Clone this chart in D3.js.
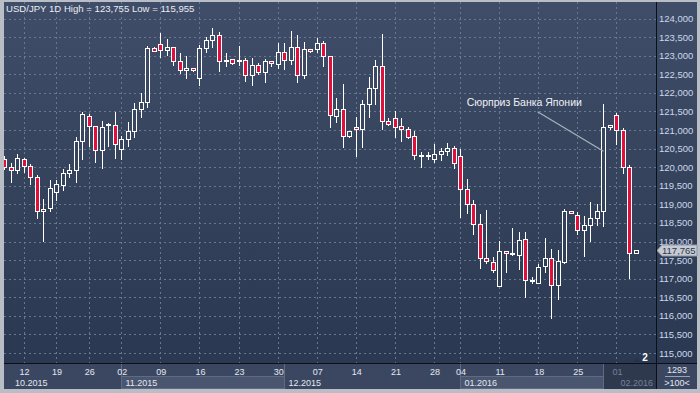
<!DOCTYPE html>
<html>
<head>
<meta charset="utf-8">
<script src="https://cdn.jsdelivr.net/npm/d3@7"></script>
<style>
  body { margin:0; background:#b9bec6; }
  svg { display:block; font-family:"Liberation Sans", Arial, sans-serif; }
</style>
</head>
<body>
<div id="canvas"></div>
<script>
// daily candles USD/JPY, oct 2015 - feb 2016
var opens = [120.21,120.00,119.92,120.21,120.03,119.73,118.82,118.90,119.34,119.51,
  119.83,119.92,120.70,121.38,121.10,120.45,121.13,121.13,120.48,120.75,
  120.97,121.56,121.75,123.20,123.31,123.15,123.23,122.86,122.61,122.67,
  122.40,123.20,123.42,123.55,122.87,122.91,122.88,122.88,122.48,122.75,
  122.56,122.85,122.77,123.10,122.88,123.23,122.48,123.18,123.19,123.34,
  122.99,121.39,121.56,120.85,121.07,121.02,121.69,122.12,122.72,121.23,
  121.31,121.10,121.03,120.83,120.34,120.33,120.21,120.35,120.43,120.51,
  120.29,119.40,119.01,118.46,117.55,117.46,116.79,117.74,117.66,117.65,
  118.06,116.95,116.89,117.34,117.55,116.82,117.46,118.81,118.70,118.31,
  118.44,118.63,118.81,121.09,121.40,120.99,120.00,117.70];
var highs = [120.30,120.11,120.35,120.26,120.08,119.79,119.15,119.66,119.66,119.95,
  120.08,120.80,121.48,121.43,121.12,121.25,121.18,121.48,120.83,121.21,
  121.72,121.99,123.27,123.22,123.62,123.45,123.24,123.07,123.00,122.68,
  123.29,123.51,123.755,123.63,123.07,122.92,123.27,122.95,122.95,122.80,
  122.91,122.86,123.34,123.34,123.67,123.56,123.37,123.19,123.47,123.40,
  123.00,121.85,122.24,120.97,121.34,121.81,122.43,122.88,123.58,121.31,
  121.51,121.31,121.09,120.96,120.42,120.41,120.62,120.52,120.64,120.56,
  120.48,119.68,119.13,118.74,118.85,117.57,118.01,117.75,118.36,118.25,
  118.25,117.05,117.39,118.09,117.79,117.77,118.88,118.82,118.79,118.69,
  119.06,119.01,121.69,121.14,121.47,121.06,120.06,117.77];
var lows = [119.95,119.61,119.83,119.88,119.54,118.63,118.02,118.81,119.12,119.39,
  119.74,119.60,120.21,120.58,120.13,119.99,120.56,120.26,120.22,120.58,
  120.80,121.36,121.61,123.12,122.96,123.01,122.74,122.54,122.41,122.58,
  122.22,123.10,123.22,122.59,122.71,122.77,122.75,122.31,122.22,122.50,
  122.29,122.71,122.68,122.64,122.77,122.29,122.41,123.10,123.10,122.71,
  121.07,121.22,120.55,120.80,120.31,120.55,121.36,121.69,121.04,121.13,
  120.82,120.71,120.79,120.23,120.01,120.23,120.14,120.19,120.34,119.99,
  118.67,118.78,118.21,117.30,117.43,117.18,116.79,117.19,117.63,117.26,
  116.50,116.89,116.87,117.19,115.955,116.44,117.43,118.76,118.20,117.62,
  118.02,118.44,118.43,121.02,120.62,119.83,117.03,117.70];
var closes = [120.00,119.92,120.24,120.03,119.73,118.82,118.88,119.43,119.54,119.84,
  119.92,120.70,121.43,121.10,120.45,121.08,121.15,120.62,120.75,120.97,
  121.56,121.75,123.20,123.13,123.15,123.23,122.86,122.61,122.67,122.61,
  123.20,123.43,123.55,122.86,122.88,122.80,122.87,122.48,122.75,122.56,
  122.85,122.80,123.10,122.88,123.23,122.48,123.19,123.13,123.34,122.99,
  121.40,121.56,120.85,120.96,121.02,121.69,122.12,122.72,121.24,121.15,
  121.09,121.02,120.82,120.32,120.33,120.34,120.35,120.43,120.52,120.10,
  119.40,119.01,118.46,117.55,117.48,117.22,117.74,117.69,117.68,118.03,
  116.96,116.96,117.32,117.55,116.82,117.47,118.81,118.78,118.31,118.44,
  118.63,118.81,121.07,121.13,120.99,120.00,117.68,117.765];

// week ticks: label + candle index
var weekLabels = ['12','19','26','02','09','16','23','30','07','14','21','28','04','11','18','25','01'];
var weekIdx    = [3,8,13,18,24,30,36,42,48,54,60,66,70,76,82,88,94];
// month bands: label + first candle index
var monthLabels = ['10.2015','11.2015','12.2015','01.2016','02.2016'];
var monthIdx    = [-1,18,43,70,92];

var yTicks = d3.range(115, 124.001, 0.5);

var note = {text:'Сюрприз Банка Японии', tx:88.7, ty:121.65, x1:81.9, y1:121.49, x2:92, y2:120.43};

var W = 700, H = 393;
var m = {l:4, t:2, r:657, b:363};

var fmt = function(v){ return d3.format(',.3f')(v).replace(',', ' ').replace('.', ',').replace(' ', ''); };

var x = d3.scaleLinear().domain([0, opens.length-1]).range([4, 636]);
var y = d3.scaleLinear().domain([115, 124]).range([353, 18.5]);

var svg = d3.select('#canvas').append('svg')
    .attr('width', W).attr('height', H);

var defs = svg.append('defs');
var grad = defs.append('linearGradient').attr('id','bg')
    .attr('gradientUnits','userSpaceOnUse')
    .attr('x1',0).attr('y1',m.t).attr('x2',0).attr('y2',m.b);
grad.append('stop').attr('offset','0%').attr('stop-color','#404d68');
grad.append('stop').attr('offset','100%').attr('stop-color','#2b3851');
defs.append('clipPath').attr('id','clip').append('rect')
    .attr('x',m.l).attr('y',m.t).attr('width',m.r-m.l).attr('height',m.b-m.t);

// frame + backgrounds
svg.append('rect').attr('width',W).attr('height',H).attr('fill','#b9bec6');
svg.append('rect').attr('x',m.l).attr('y',m.t).attr('width',697-m.l).attr('height',m.b-m.t)
    .attr('fill','url(#bg)');
svg.append('rect').attr('x',m.l).attr('y',m.b).attr('width',697-m.l).attr('height',389-m.b)
    .attr('fill','#3b4761');

var plot = svg.append('g').attr('clip-path','url(#clip)');

// grid
plot.selectAll('.hgrid').data(yTicks).enter().append('line')
    .attr('x1',m.l).attr('x2',m.r)
    .attr('y1',function(d){ return Math.round(y(d))+0.5; })
    .attr('y2',function(d){ return Math.round(y(d))+0.5; })
    .attr('stroke','#6a7792').attr('stroke-dasharray','2,3');
plot.selectAll('.vgrid').data(weekIdx).enter().append('line')
    .attr('x1',function(d){ return Math.round(x(d))+0.5; })
    .attr('x2',function(d){ return Math.round(x(d))+0.5; })
    .attr('y1',m.t).attr('y2',m.b)
    .attr('stroke','#6a7792').attr('stroke-dasharray','2,3');

// header
svg.append('text').attr('x',6).attr('y',12)
    .attr('fill','#e8edf4').attr('font-size','9.6px')
    .text('USD/JPY 1D  High = ' + fmt(d3.max(highs)) + ' Low  = ' + fmt(d3.min(lows)));

// candles
var idx = d3.range(opens.length);
var candle = plot.selectAll('.candle').data(idx).enter().append('g').attr('class','candle');
candle.append('line')
    .attr('x1',function(i){ return Math.round(x(i))+0.5; })
    .attr('x2',function(i){ return Math.round(x(i))+0.5; })
    .attr('y1',function(i){ return Math.round(y(highs[i])); })
    .attr('y2',function(i){ return Math.round(y(lows[i]))+1; })
    .attr('stroke','#ffffff');
candle.append('rect')
    .attr('x',function(i){ return Math.round(x(i))-1.5; })
    .attr('width',4)
    .attr('y',function(i){ return Math.round(y(Math.max(opens[i],closes[i])))+0.5; })
    .attr('height',function(i){
        var h = Math.round(y(Math.min(opens[i],closes[i]))) - Math.round(y(Math.max(opens[i],closes[i])));
        return Math.max(h,1);
    })
    .attr('fill',function(i){ return closes[i] < opens[i] ? '#e0103c' : 'url(#bg)'; })
    .attr('stroke','#ffffff');

// annotation
plot.append('line')
    .attr('x1',x(note.x1)).attr('y1',y(note.y1))
    .attr('x2',x(note.x2)).attr('y2',y(note.y2))
    .attr('stroke','#a9b1bf').attr('stroke-width',1.2);
plot.append('text').attr('x',x(note.tx)).attr('y',y(note.ty))
    .attr('text-anchor','end').attr('fill','#eef2f7').attr('font-size','10.5px')
    .text(note.text);

// little counter near bottom right
plot.append('path').attr('d','M633,362 l4,-4 l4,4 z').attr('fill','#26314a');
svg.append('text').attr('x',645).attr('y',361).attr('text-anchor','middle')
    .attr('fill','#ffffff').attr('font-size','10px').attr('font-weight','bold').text('2');

// right axis
svg.selectAll('.ylab').data(yTicks).enter().append('text')
    .attr('x',659).attr('y',function(d){ return y(d)+3.5; })
    .attr('fill','#ccd8ec').attr('font-size','9.5px')
    .text(fmt);

// last price tag
var last = closes[closes.length-1], ly = Math.round(y(last))+0.5;
svg.append('path')
    .attr('d','M657,'+ly+' l5,-5.5 h35 v11 h-35 z')
    .attr('fill','#c6cad1').attr('stroke','#8d96a6');
svg.append('text').attr('x',662).attr('y',ly+3.5)
    .attr('fill','#2c3852').attr('font-size','9.5px').text(fmt(last));

// bottom axis: month boxes
var mx = monthIdx.map(function(d){ return d < 0 ? m.l : Math.round(x(d))+0.5; });
mx.forEach(function(d,i){
    var right = i < mx.length-1 ? mx[i+1] : m.r;
    if (i === 1 || i === 3) {
        svg.append('rect').attr('x',d).attr('y',376.5).attr('width',right-d).attr('height',12)
            .attr('fill','#4a566f').attr('stroke','#5f6b83');
    }
    if (i === mx.length-1) {
        svg.append('rect').attr('x',d).attr('y',m.b).attr('width',m.r-d-1).attr('height',389-m.b)
            .attr('fill','#2e394e');
    }
    if (i > 0) {
        svg.append('line').attr('x1',d).attr('x2',d).attr('y1',m.b).attr('y2',389)
            .attr('stroke','#5f6b83');
    }
});
svg.selectAll('.mlab').data(monthLabels).enter().append('text')
    .attr('x',function(d,i){ return i === 0 ? 15 : mx[i]+4 + (i === 4 ? 13 : 0); })
    .attr('y',386)
    .attr('fill',function(d,i){ return i === 4 ? '#76819a' : '#e2e8f1'; })
    .attr('font-size','9px')
    .text(function(d){ return d; });
svg.selectAll('.wlab').data(weekLabels).enter().append('text')
    .attr('x',function(d,i){ return x(weekIdx[i])+1; })
    .attr('y',375)
    .attr('text-anchor','middle')
    .attr('fill',function(d,i){ return weekIdx[i] >= monthIdx[4] ? '#76819a' : '#e2e8f1'; })
    .attr('font-size','9px')
    .text(function(d){ return d; });

// right bottom box
svg.append('text').attr('x',677).attr('y',373).attr('text-anchor','middle')
    .attr('fill','#e2e8f1').attr('font-size','9px').text('1293');
svg.append('line').attr('x1',665).attr('x2',690).attr('y1',376.5).attr('y2',376.5).attr('stroke','#98a2b4');
svg.append('text').attr('x',677).attr('y',386).attr('text-anchor','middle')
    .attr('fill','#e2e8f1').attr('font-size','9px').text('>100<');

// separators
svg.append('line').attr('x1',656.5).attr('x2',656.5).attr('y1',m.t).attr('y2',389).attr('stroke','#0c0f16');
svg.append('line').attr('x1',m.l).attr('x2',697).attr('y1',m.b+0.5).attr('y2',m.b+0.5).attr('stroke','#0c0f16');
</script>
</body>
</html>
